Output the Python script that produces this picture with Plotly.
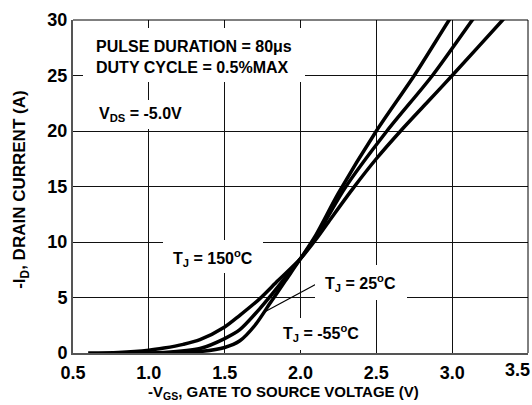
import plotly.graph_objects as go

# -55 C
vgs_m55 = [1.0, 1.2, 1.35, 1.5, 1.6, 1.7, 1.8, 1.9, 2.0, 2.1, 2.25, 2.5, 2.75, 2.98, 3.1]
id_m55 = [0.0, 0.05, 0.15, 0.5, 1.1, 2.5, 4.5, 6.5, 8.5, 10.6, 14.4, 20.0, 25.0, 30.0, 32.5]
# 25 C
vgs_25 = [0.9, 1.1, 1.337, 1.5, 1.6, 1.732, 1.8, 1.9, 2.0, 2.1, 2.29, 2.57, 2.87, 3.133, 3.25]
id_25 = [0.0, 0.05, 0.4, 1.3, 2.1, 4.0, 5.1, 6.8, 8.5, 10.4, 14.8, 20.0, 25.0, 30.0, 32.2]
# 150 C
vgs_150 = [0.6, 0.8, 1.0, 1.1, 1.227, 1.337, 1.5, 1.6, 1.732, 1.85, 2.0, 2.1, 2.2, 2.35, 2.5, 2.66, 2.83, 3.0, 3.333, 3.45]
id_150 = [0.0, 0.05, 0.25, 0.45, 0.78, 1.2, 2.35, 3.4, 4.9, 6.5, 8.5, 10.2, 12.1, 14.9, 17.5, 20.0, 22.5, 25.0, 30.0, 31.7]

x_ticks = [0.5, 1.0, 1.5, 2.0, 2.5, 3.0, 3.5]
x_tick_labels = ["0.5", "1.0", "1.5", "2.0", "2.5", "3.0", "3.5"]
y_ticks = [0, 5, 10, 15, 20, 25, 30]

FONT = "Liberation Sans"

fig = go.Figure()
for xs, ys in [(vgs_m55, id_m55), (vgs_25, id_25), (vgs_150, id_150)]:
    fig.add_trace(go.Scatter(x=xs, y=ys, mode="lines",
                             line=dict(color="black", width=3.5, shape="spline", smoothing=0.8),
                             showlegend=False, hoverinfo="skip"))

# white label boxes (hide grid): (x0, x1, y0, y1) in data units
boxes = [
    (0.566, 2.028, 24.41, 29.28),
    (0.599, 1.304, 20.17, 22.79),
    (1.093, 1.752, 7.19, 10.16),
    (2.094, 2.70, 4.75, 7.91),
    (1.811, 2.457, 0.24, 3.13),
]
XPX = 151.8   # px per volt
YPX = 11.09   # px per amp
annotations = []
for x0, x1, y0, y1 in boxes:
    annotations.append(dict(xref="x", yref="y", x=(x0 + x1) / 2, y=(y0 + y1) / 2,
                            xanchor="center", yanchor="middle", text=" ", showarrow=False,
                            width=(x1 - x0) * XPX, height=(y1 - y0) * YPX,
                            bgcolor="white", borderpad=0, borderwidth=0))

shapes = [dict(type="line", xref="x", yref="y", x0=1.75, y0=3.6, x1=2.114, y1=6.28,
               line=dict(color="black", width=1.2), layer="above")]

afont = dict(family=FONT, size=16, color="black", weight="bold")
labels = [
    dict(x=0.638, y=26.71, xanchor="left", yanchor="middle", align="left",
         text="PULSE DURATION = 80μs<br>DUTY CYCLE = 0.5%MAX"),
    dict(x=0.656, y=21.48, xanchor="left", yanchor="middle",
         text="V<sub>DS</sub> = -5.0V"),
    dict(x=1.4256, y=8.58, xanchor="center", yanchor="middle",
         text="T<sub>J</sub> = 150<sup>o</sup>C"),
    dict(x=2.394, y=6.33, xanchor="center", yanchor="middle",
         text="T<sub>J</sub> = 25<sup>o</sup>C"),
    dict(x=2.134, y=1.78, xanchor="center", yanchor="middle",
         text="T<sub>J</sub> = -55<sup>o</sup>C"),
]
for a in labels:
    a.update(xref="x", yref="y", showarrow=False, font=afont)
annotations += labels

TICKLEN = 2
tfont = dict(family=FONT, size=18, color="black", weight="bold")
# last x tick label is pulled inside the page (as in the reference)
annotations.append(dict(xref="x", yref="paper", x=x_ticks[-1], y=0, xanchor="right", yanchor="top",
                        xshift=4, yshift=-(TICKLEN + 3), text=x_tick_labels[-1], showarrow=False,
                        font=tfont))
# axis titles
annotations.append(dict(xref="paper", yref="paper", x=-0.1143, y=0.49, xanchor="center",
                        yanchor="middle", textangle=-90, showarrow=False,
                        text="-I<sub>D</sub>, DRAIN CURRENT (A)",
                        font=dict(family=FONT, size=17, color="black", weight="bold")))
annotations.append(dict(xref="paper", yref="paper", x=0.462, y=-0.118, xanchor="center",
                        yanchor="middle", showarrow=False,
                        text="-V<sub>GS</sub>, GATE TO SOURCE VOLTAGE (V)",
                        font=dict(family=FONT, size=15, color="black", weight="bold")))

shown_x_labels = x_tick_labels[:-1] + [""]

fig.update_layout(
    width=532, height=405,
    margin=dict(l=73, r=4, t=20, b=52),
    paper_bgcolor="white", plot_bgcolor="white",
    font=dict(family=FONT, color="black"),
    shapes=shapes, annotations=annotations,
    xaxis=dict(range=[0.5, 3.5], tickvals=x_ticks, ticktext=shown_x_labels,
               automargin=False,
               showgrid=True, gridcolor="#111", gridwidth=1,
               showline=True, linecolor="#555", linewidth=2, mirror=False,
               zeroline=False, ticks="outside", ticklen=TICKLEN, tickcolor="rgba(0,0,0,0)",
               tickfont=tfont),
    yaxis=dict(range=[0, 30], tickvals=y_ticks, automargin=False,
               showgrid=True, gridcolor="#111", gridwidth=1,
               showline=True, linecolor="#555", linewidth=2,
               zeroline=False, ticks="",
               tickfont=tfont),
)
# top & right borders (thin)
fig.add_shape(type="line", xref="paper", yref="paper", x0=0, x1=1, y0=1, y1=1,
              line=dict(color="black", width=1), layer="above")
fig.add_shape(type="line", xref="paper", yref="paper", x0=1, x1=1, y0=0, y1=1,
              line=dict(color="black", width=1), layer="above")

fig.write_html("out.html")
